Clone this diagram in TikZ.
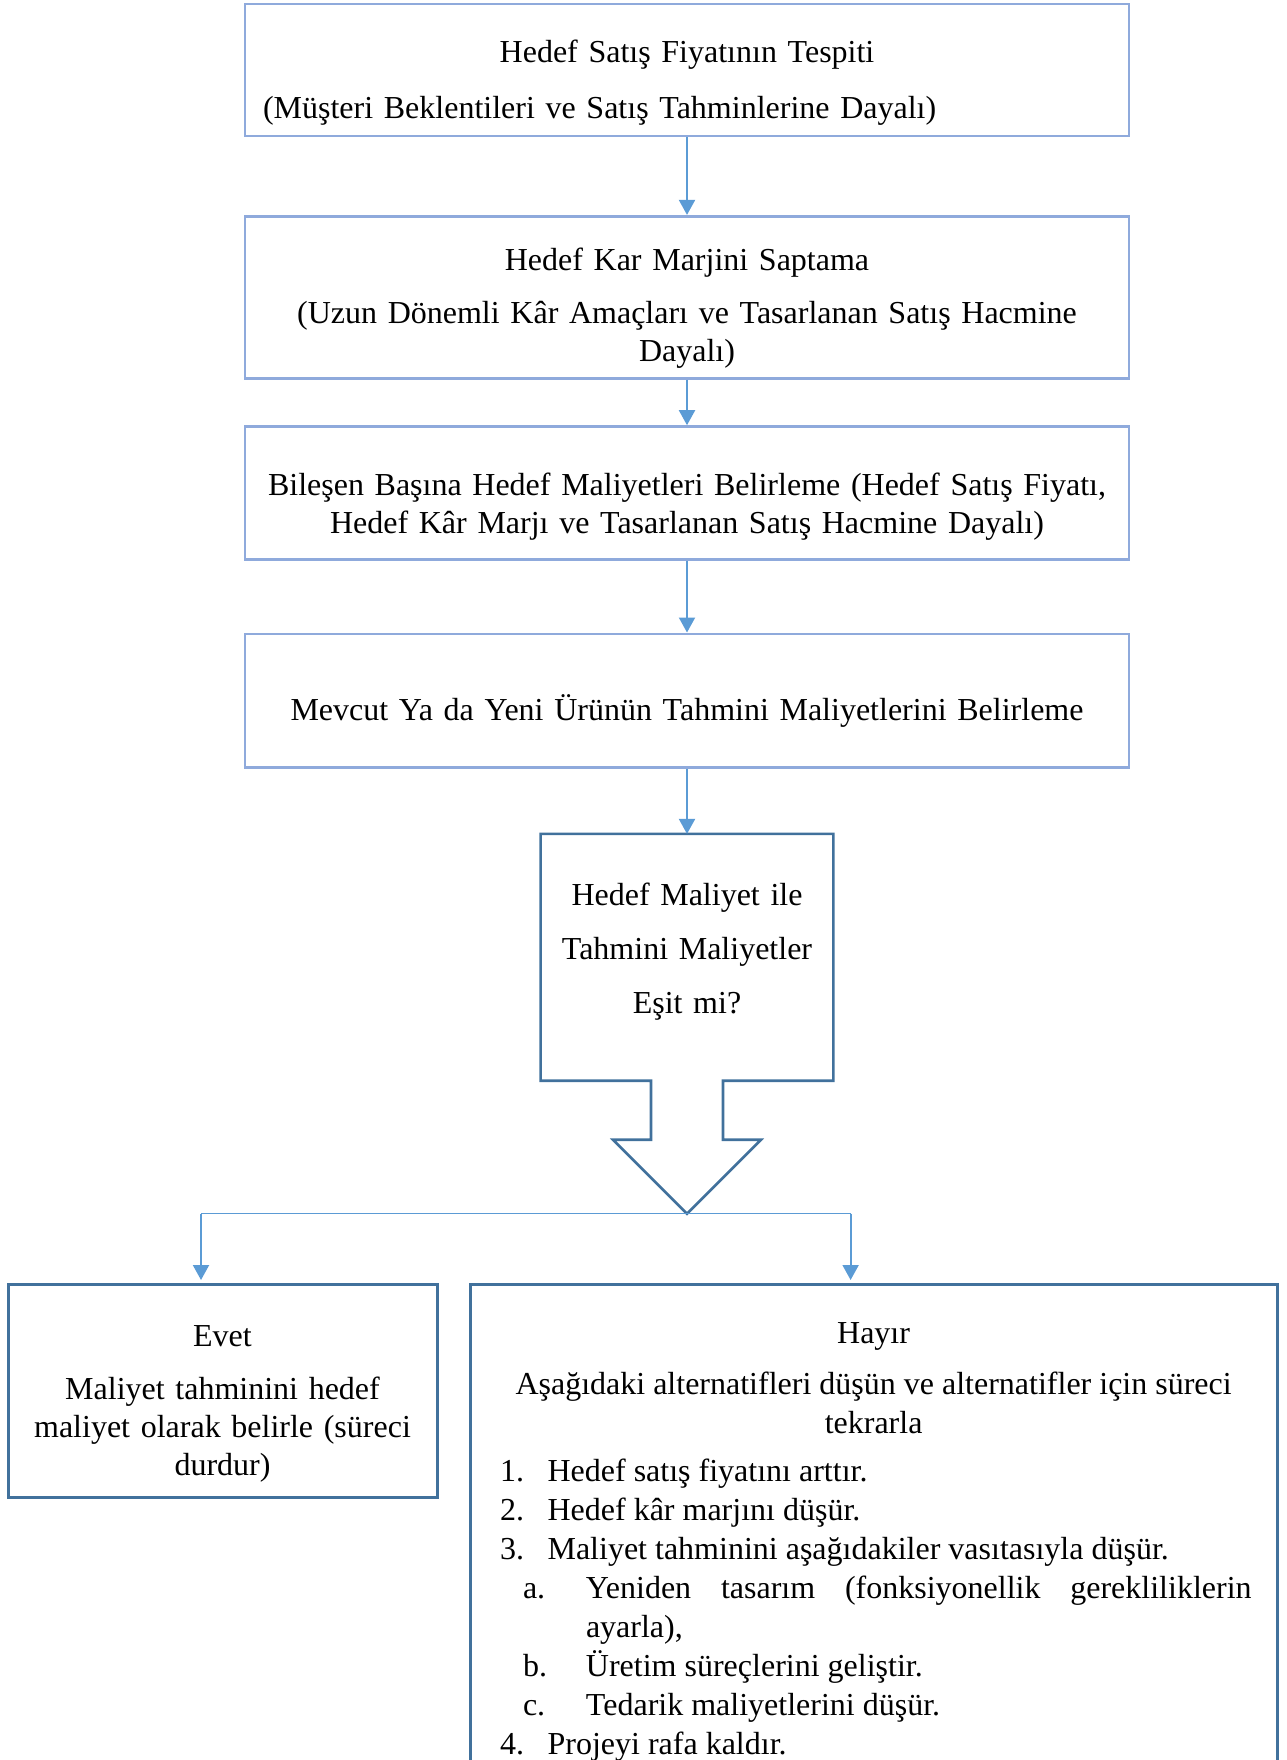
\documentclass[tikz,border=0pt]{standalone}
\usepackage{fontspec}
\setmainfont{Liberation Serif}
\usetikzlibrary{positioning,arrows.meta}

\definecolor{lightframe}{RGB}{143,170,220}
\definecolor{darkframe}{RGB}{65,113,156}
\definecolor{arrowblue}{RGB}{91,155,213}

% one line of the numbered list: indent of label, indent of text, label
\newcommand{\altitem}[3]{\par\noindent\hangindent=#2\hangafter=1\hspace*{#1}\makebox[\dimexpr#2-#1\relax][l]{#3}\ignorespaces}

\begin{document}
\begin{tikzpicture}[
	font=\fontsize{16pt}{19.2pt}\selectfont,
	main/.style={rectangle, draw=lightframe, line width=1.4pt, minimum width=442pt, text width=424pt, inner xsep=9pt, inner ysep=0pt, text height=0pt, align=center},
	decision/.style={rectangle, minimum width=146pt, minimum height=123pt, text width=140pt, inner sep=0pt, text height=0pt, align=center, font=\fontsize{16pt}{27pt}\selectfont},
	callout/.style={draw=darkframe, line width=1.3pt, line join=miter},
	result/.style={rectangle, draw=darkframe, line width=1.5pt, inner ysep=0pt, text height=0pt, anchor=north},
	link/.style={draw=arrowblue, line width=1pt, -{Triangle[width=8pt,length=7.5pt]}},
	bar/.style={draw=arrowblue, line width=0.7pt}
	]

	\useasboundingbox (0,0) rectangle (643pt,-880pt);

	\node (price) [main, align=left, minimum height=66pt, text depth=7.5pt] at (343.5pt,-35pt) {{\centering Hedef Satış Fiyatının Tespiti\par}\vspace{8.7pt}(Müşteri Beklentileri ve Satış Tahminlerine Dayalı)};

	\node (margin) [main, below=38.75pt of price, minimum height=81pt, text depth=26.4pt] {Hedef Kar Marjini Saptama\par\vspace{7pt}(Uzun Dönemli Kâr Amaçları ve Tasarlanan Satış Hacmine\\Dayalı)};

	\node (compcost) [main, below=22.75pt of margin, minimum height=66.25pt, text height=2.5pt, text depth=0pt] {Bileşen Başına Hedef Maliyetleri Belirleme (Hedef Satış Fiyatı,\\Hedef Kâr Marjı ve Tasarlanan Satış Hacmine Dayalı)};

	\node (estcost) [main, below=36pt of compcost, minimum height=66.8pt, text height=20.2pt, text depth=0pt] {Mevcut Ya da Yeni Ürünün Tahmini Maliyetlerini Belirleme};

	\node (check) [decision, below=32.5pt of estcost, text depth=52.2pt] {Hedef Maliyet ile\\Tahmini Maliyetler\\Eşit mi?};
		\coordinate (tip) at ([yshift=-66.5pt]check.south);

	\node (yes) [result, minimum width=214.5pt, minimum height=106.5pt, text width=200pt, inner xsep=7.25pt, align=center, text depth=44.7pt] at (111.25pt,-641.5pt) {Evet\par\vspace{7.2pt}Maliyet tahminini hedef\\maliyet olarak belirle (süreci\\durdur)};

	\node (no) [result, minimum width=403.4pt, minimum height=260pt, text width=378pt, inner xsep=12.7pt, align=justify, text depth=201.2pt, font=\fontsize{16pt}{19.5pt}\selectfont] at (436.8pt,-641.5pt) {\tolerance=10000
		{\centering Hayır\par}
		\vspace{6.2pt}
		{\centering Aşağıdaki alternatifleri düşün ve alternatifler için süreci\\tekrarla\par}
		\vspace{4.5pt}
		\altitem{2.2pt}{26pt}{1.}Hedef satış fiyatını arttır.
		\altitem{2.2pt}{26pt}{2.}Hedef kâr marjını düşür.
		\altitem{2.2pt}{26pt}{3.}Maliyet tahminini aşağıdakiler vasıtasıyla düşür.
		\altitem{13.7pt}{45.2pt}{a.}Yeniden tasarım (fonksiyonellik gerekliliklerin\linebreak ayarla),
		\altitem{13.7pt}{45.2pt}{b.}Üretim süreçlerini geliştir.
		\altitem{13.7pt}{45.2pt}{c.}Tedarik maliyetlerini düşür.
		\altitem{2.2pt}{26pt}{4.}Projeyi rafa kaldır.\par};

	\draw [callout] (check.north west) -- (check.north east) -- (check.south east) -- ([xshift=18pt]check.south) -- ++(0,-29.5pt) -- ++(19pt,0) -- (tip) -- ++(-37pt,37pt) -- ++(19pt,0) -- ++(0,29.5pt) -- (check.south west) -- cycle;

	\draw [link] (price.south) -- (margin.north);
	\draw [link] (margin.south) -- (compcost.north);
	\draw [link] (compcost.south) -- (estcost.north);
	\draw [link] (estcost.south) -- (check.north);

	\coordinate (yesin) at ([xshift=-10.75pt,yshift=1.5pt]yes.north);
	\coordinate (noin) at ([xshift=-11.5pt,yshift=1.5pt]no.north);
	\draw [bar] (yesin |- tip) -- (noin |- tip);
	\draw [link] (yesin |- tip) -- (yesin);
	\draw [link] (noin |- tip) -- (noin);

\end{tikzpicture}
\end{document}
